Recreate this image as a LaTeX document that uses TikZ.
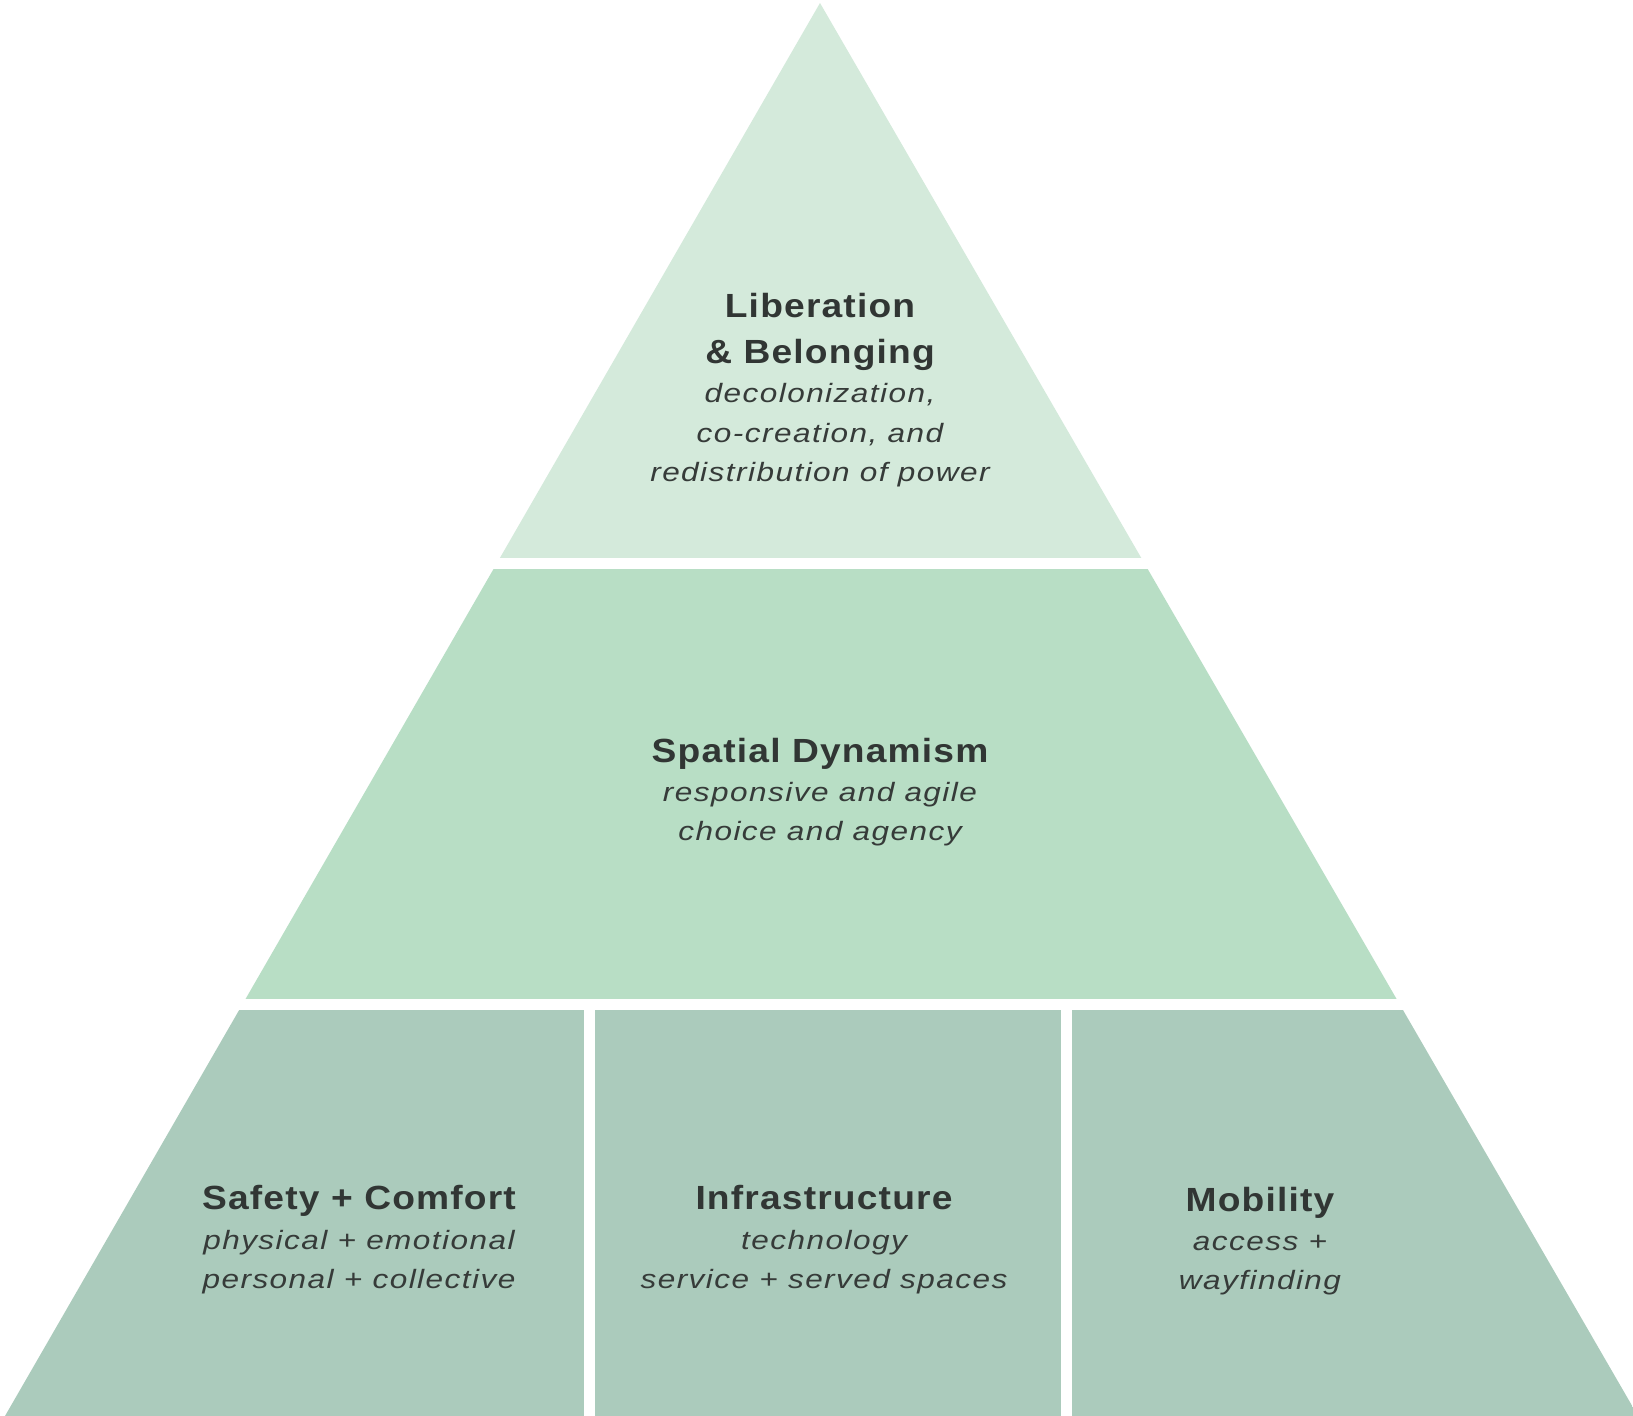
\documentclass[tikz,border=0pt]{standalone}
\usepackage{fontspec}
\setmainfont{Liberation Sans}
\newfontfamily\ttlfont{Liberation Sans}[FakeStretch=1.11,LetterSpace=3.5]
\newfontfamily\subfont{Liberation Sans}[FakeStretch=1.19,LetterSpace=5.5]
\definecolor{topc}{HTML}{D4EADB}
\definecolor{midc}{HTML}{B8DEC5}
\definecolor{botc}{HTML}{ABCBBC}
\definecolor{txtc}{HTML}{313634}
\definecolor{subc}{HTML}{363B39}
\tikzset{
  ttl/.style={anchor=base,inner sep=0pt,text=txtc,font=\ttlfont\fontsize{33.5}{40}\selectfont\bfseries},
  sub/.style={anchor=base,inner sep=0pt,text=subc,font=\subfont\fontsize{26.5}{38}\selectfont\itshape}
}
\begin{document}
\begin{tikzpicture}[x=1pt,y=-1pt]
\useasboundingbox[fill=white] (0,0) rectangle (1633,1416);
\begin{scope}
\clip (820,3) -- (5,1416) -- (1638,1416) -- cycle;
\fill[topc] (0,0) rectangle (1633,557.5);
\fill[midc] (0,568.5) rectangle (1633,999);
\fill[botc] (0,1010) rectangle (584,1420);
\fill[botc] (595,1010) rectangle (1061,1420);
\fill[botc] (1072,1010) rectangle (1640,1420);
\end{scope}
% top tier
\node[ttl] (t1) at (820,317) {Liberation};
\node[ttl] (t2) at (820,363) {\& Belonging};
\node[sub] (t3) at (820,402) {decolonization,};
\node[sub] (t4) at (820,442) {co-creation, and};
\node[sub] (t5) at (820,481) {redistribution of power};
% middle tier
\node[ttl] (m1) at (820,762) {Spatial Dynamism};
\node[sub] (m2) at (820,801) {responsive and agile};
\node[sub] (m3) at (820,840) {choice and agency};
% bottom tier
\node[ttl] (s1) at (359,1209) {Safety + Comfort};
\node[sub] (s2) at (359,1249) {physical + emotional};
\node[sub] (s3) at (359,1288) {personal + collective};
\node[ttl] (i1) at (824,1209) {Infrastructure};
\node[sub] (i2) at (824,1249) {technology};
\node[sub] (i3) at (824,1288) {service + served spaces};
\node[ttl] (b1) at (1260,1211) {Mobility};
\node[sub] (b2) at (1260,1250) {access +};
\node[sub] (b3) at (1260,1289) {wayfinding};
\end{tikzpicture}
\end{document}
